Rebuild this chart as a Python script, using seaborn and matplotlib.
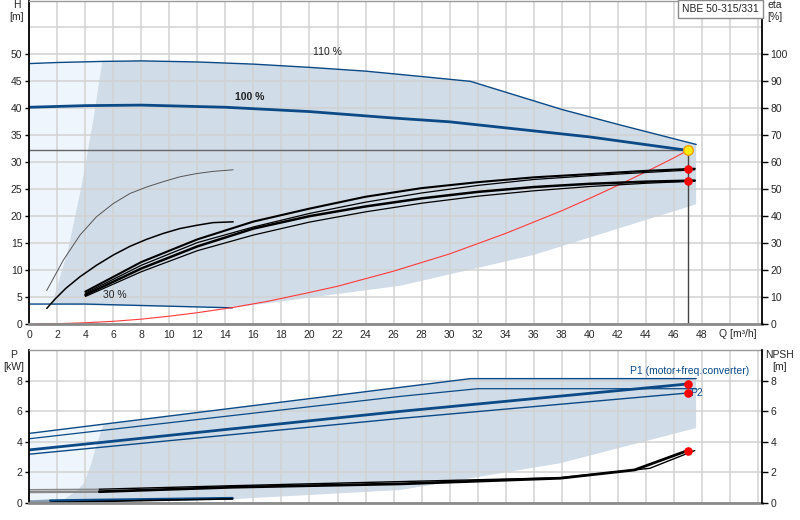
import numpy as np
import matplotlib
matplotlib.use("Agg")
import matplotlib.pyplot as plt
import seaborn as sns

sns.set_style("white")
plt.rcParams["font.family"] = ["Liberation Sans", "DejaVu Sans"]
plt.rcParams["font.size"] = 7.5

DARK_BLUE = "#0b4a86"
SHADE = "#d0dce8"
LIGHT = "#eef5fc"
GRID = "#d2d2d2"

# ---- head chart (H [m], eta [%]) ----
q_110 = [0, 2, 5.2, 8, 12, 16, 20, 24, 28, 31.5, 34, 38, 42.2, 47.6]
h_110 = [48.3, 48.5, 48.7, 48.8, 48.6, 48.2, 47.6, 46.9, 45.9, 45.0, 43.0, 39.8, 36.9, 33.3]

q_100 = [0, 4, 8, 14, 20, 26, 30, 35, 40, 47]
h_100 = [40.2, 40.5, 40.6, 40.2, 39.4, 38.2, 37.5, 36.1, 34.7, 32.2]

q_30 = [0, 1.6, 4, 14.5]
h_30 = [3.7, 3.7, 3.7, 3.0]

# left edge of the operating range, and its lower edge (right to left)
q_left = [1.6, 2.0, 2.76, 3.76, 4.6, 5.2]
h_left = [3.6, 7.0, 13.7, 26.0, 38.4, 48.7]
q_low = [47.6, 47.6, 36, 26.5, 14.5]
h_low = [33.3, 22.2, 12.8, 7.1, 3.0]

# system curve
q_sys = [0.5, 2, 4, 6, 8, 10, 12, 14.5, 17, 20, 22, 24, 26, 28, 30, 32, 34,
         36, 38, 40, 42, 44, 46, 47]
h_sys = [0, 0.06, 0.23, 0.5, 0.9, 1.45, 2.1, 3.05, 4.2, 5.85, 7.0, 8.4, 9.8,
         11.4, 13.0, 14.9, 16.8, 18.9, 21.0, 23.3, 25.7, 28.2, 30.8, 32.2]

# efficiency curves
q_eta_a = [1.24, 2.43, 3.62, 4.8, 6.0, 7.18, 8.37, 9.56, 10.75, 11.94, 13.1, 14.55]
h_eta_a = [6.2, 11.85, 16.5, 19.9, 22.35, 24.2, 25.4, 26.4, 27.3, 27.9, 28.3, 28.6]
q_eta_b = [1.25, 1.83, 2.6, 3.62, 4.8, 6.0, 7.18, 8.37, 9.56, 10.75, 11.94, 13.1, 14.55]
h_eta_b = [2.9, 4.6, 6.6, 8.77, 10.9, 12.8, 14.4, 15.7, 16.8, 17.7, 18.3, 18.8, 18.95]

q_eta = [4, 8, 12, 16, 20, 24, 28, 32, 36, 40, 44, 47.5]
h_eta_1 = [6.0, 11.5, 15.7, 19.0, 21.4, 23.6, 25.2, 26.3, 27.2, 27.8, 28.4, 28.8]
h_eta_2 = [5.7, 10.9, 15.1, 18.0, 20.5, 22.6, 24.3, 25.7, 26.8, 27.5, 28.1, 28.6]
h_eta_3 = [5.4, 10.3, 14.4, 17.7, 20.0, 21.8, 23.3, 24.5, 25.4, 26.0, 26.4, 26.6]
h_eta_4 = [5.1, 9.7, 13.6, 16.5, 18.9, 20.8, 22.4, 23.7, 24.7, 25.5, 26.1, 26.5]

q_duty = 47
h_duty = 32.2
h_eta_dots = [28.7, 26.5]

# ---- power chart (P [kW], NPSH [m]) ----
q_p1 = [0, 26.5, 31.5, 47.6]
p_1 = [4.55, 7.56, 8.13, 8.13]
q_p2 = [0, 26.5, 32, 47.6]
p_2 = [4.2, 6.97, 7.47, 7.47]
q_p3 = [0, 26.5, 47]
p_3 = [3.47, 5.99, 7.78]
q_p4 = [0, 26.5, 47]
p_4 = [3.19, 5.53, 7.19]

q_pleft = [1.5, 2.5, 3.4, 3.9, 4.4, 4.8, 5.3]
p_pleft = [0, 0.25, 0.8, 1.3, 2.5, 3.8, 5.15]
q_plow = [47.6, 47.6, 37.9, 26.5, 14.5, 1.5]
p_plow = [8.13, 4.9, 2.6, 0.85, 0.25, 0]

q_npsh_a = [0, 5, 14.5, 26.5, 37.9, 43.2, 47]
npsh_a = [0.72, 0.74, 1.03, 1.25, 1.62, 2.16, 3.43]
q_npsh_b = [0, 5, 14.5, 26.5, 37.9, 43.2, 44.3, 47.5]
npsh_b = [0.87, 0.9, 1.13, 1.4, 1.65, 2.16, 2.27, 3.43]

q_low_a = [0, 1.5, 14.5]
p_low_a = [0.1, 0.15, 0.31]
q_low_b = [0, 1.5, 14.5]
p_low_b = [0.03, 0.04, 0.27]

p_dots = [7.78, 7.19]
npsh_dot = 3.43

x_ticks = np.arange(0, 53, 2)
x_labels = [str(v) if v <= 48 else "" for v in x_ticks]

fig = plt.figure(figsize=(8, 5.2), dpi=100)
W = 800.0
Hpx = 520.0
ax = fig.add_axes([29.3 / W, 1 - 324 / Hpx, (762 - 29.3) / W, 323.5 / Hpx])
ax2 = fig.add_axes([29.3 / W, 1 - 503 / Hpx, (762 - 29.3) / W, 153 / Hpx])


def line(a, x, y, color, lw, z=2):
    sns.lineplot(x=x, y=y, ax=a, color=color, lw=lw, sort=False,
                 estimator=None, legend=False, zorder=z)


def style_axes(a, ymax, ystep, label_max):
    a.set_xlim(0, 52.3)
    a.set_ylim(0, ymax)
    a.set_axisbelow(True)
    a.set_xticks(x_ticks)
    a.set_yticks(np.arange(0, label_max + 0.01, ystep))
    a.set_yticks(np.arange(label_max + ystep, ymax + 0.01, ystep), minor=True)
    a.grid(True, which="both", color=GRID, lw=1.1)
    a.tick_params(axis="y", which="major", length=3, width=1, pad=2, color="black")
    a.tick_params(axis="y", which="minor", length=0)
    a.tick_params(axis="x", length=0, pad=4)
    a.spines["left"].set_color("black")
    a.spines["left"].set_linewidth(1.3)
    a.spines["right"].set_visible(False)
    a.spines["top"].set_color("#9a9a9a")
    a.spines["top"].set_linewidth(1.0)
    a.spines["bottom"].set_color("#8a8a8a")
    a.spines["bottom"].set_linewidth(2.0)


style_axes(ax, 60, 5, 50)
ax.set_xticklabels(x_labels)
style_axes(ax2, 10, 2, 8)
ax2.set_xticklabels([])

# twin axes on the right
axr = ax.twinx()
axr.set_ylim(0, 120)
axr.set_yticks(np.arange(0, 101, 10))
axr2 = ax2.twinx()
axr2.set_ylim(0, 10)
axr2.set_yticks(np.arange(0, 9, 2))
for a in (axr, axr2):
    a.grid(False)
    for s in ("left", "top", "bottom"):
        a.spines[s].set_visible(False)
    a.spines["right"].set_color("black")
    a.spines["right"].set_linewidth(1.3)
    a.tick_params(axis="y", length=4, width=1, pad=2, color="black")

# --- head chart areas ---
light_q = [0, 0, 5.2] + q_left[::-1] + [0]
light_h = [3.7, 48.3, 48.7] + h_left[::-1] + [3.7]
ax.fill(light_q, light_h, color=LIGHT, lw=0, zorder=0.1)
top_q = [q for q in q_110 if q > 5.2]
top_h = [h for q, h in zip(q_110, h_110) if q > 5.2]
area_q = q_left + top_q + q_low[1:] + [1.6]
area_h = h_left + top_h + h_low[1:] + [3.6]
ax.fill(area_q, area_h, color=SHADE, lw=0, zorder=0.2)

line(ax, q_110, h_110, DARK_BLUE, 1.0)
line(ax, q_100, h_100, DARK_BLUE, 2.0)
line(ax, q_30, h_30, DARK_BLUE, 1.0)
line(ax, q_sys, h_sys, "#ff3a3a", 0.8)
line(ax, q_eta_a, h_eta_a, "#555555", 0.7)
line(ax, q_eta_b, h_eta_b, "black", 1.1)
line(ax, q_eta, h_eta_1, "black", 1.5)
line(ax, q_eta, h_eta_2, "black", 0.9)
line(ax, q_eta, h_eta_3, "black", 1.8)
line(ax, q_eta, h_eta_4, "black", 0.9)

ax.plot([0, q_duty], [h_duty, h_duty], color="#666666", lw=1.0, zorder=1.5)
ax.plot([q_duty, q_duty], [0, h_duty], color="#444444", lw=1.0, zorder=1.5)
ax.scatter([q_duty] * 2, h_eta_dots, s=38, color="red", zorder=5, lw=0)
ax.scatter([q_duty], [h_duty], s=48, color="#ffee00", edgecolor="#f0a000",
           lw=1.0, zorder=6)

ax.text(21.3, 50.4, "110 %", ha="center", va="center", color="#222222")
ax.text(15.7, 42.1, "100 %", ha="center", va="center", fontweight="bold",
        color="#222222")
ax.text(6.1, 5.3, "30 %", ha="center", va="center", color="#222222")

# --- power chart areas ---
plight_q = [0, 0] + q_pleft[::-1]
plight_p = [0, 4.55] + p_pleft[::-1]
ax2.fill(plight_q, plight_p, color=LIGHT, lw=0, zorder=0.1)
ptop_q = [q for q in q_p1 if q > 5.3]
ptop_p = [p for q, p in zip(q_p1, p_1) if q > 5.3]
ax2.fill(q_pleft + ptop_q + q_plow[1:], p_pleft + ptop_p + p_plow[1:],
         color=SHADE, lw=0, zorder=0.2)

line(ax2, q_p1, p_1, DARK_BLUE, 1.0)
line(ax2, q_p2, p_2, DARK_BLUE, 0.9)
line(ax2, q_p3, p_3, DARK_BLUE, 2.0)
line(ax2, q_p4, p_4, DARK_BLUE, 1.0)
line(ax2, q_npsh_b[:2], npsh_b[:2], "#888888", 1.0)
line(ax2, q_npsh_b[1:], npsh_b[1:], "black", 1.0)
line(ax2, q_npsh_a[:2], npsh_a[:2], "#888888", 1.8)
line(ax2, q_npsh_a[1:], npsh_a[1:], "black", 2.0)
line(ax2, q_low_a[:2], p_low_a[:2], "#8aa0b8", 1.8)
line(ax2, q_low_a[1:], p_low_a[1:], DARK_BLUE, 2.0)
line(ax2, q_low_b[:2], p_low_b[:2], "#888888", 1.2)
line(ax2, q_low_b[1:], p_low_b[1:], "black", 1.2)

ax2.scatter([q_duty] * 2, p_dots, s=38, color="red", zorder=5, lw=0)
ax2.scatter([q_duty], [npsh_dot], s=38, color="red", zorder=5, lw=0)
ax2.text(47.2, p_dots[1], "P2", ha="left", va="center", color=DARK_BLUE,
         zorder=4)
ax2.text(51.4, 8.66, "P1 (motor+freq.converter)", ha="right", va="center",
         color=DARK_BLUE)

for a in (ax, ax2, axr, axr2):
    a.set_xlabel("")
    a.set_ylabel("")

# --- axis captions ---
fig.text(16.7 / W, 1 - 5 / Hpx, "H", ha="center", va="center")
fig.text(16.7 / W, 1 - 17 / Hpx, "[m]", ha="center", va="center")
fig.text(775 / W, 1 - 5 / Hpx, "eta", ha="center", va="center")
fig.text(775 / W, 1 - 17 / Hpx, "[%]", ha="center", va="center")
fig.text(14 / W, 1 - 355 / Hpx, "P", ha="center", va="center")
fig.text(14 / W, 1 - 367 / Hpx, "[kW]", ha="center", va="center")
fig.text(779 / W, 1 - 355 / Hpx, "NPSH", ha="center", va="center")
fig.text(780 / W, 1 - 367 / Hpx, "[m]", ha="center", va="center")
fig.text(738 / W, 1 - 334 / Hpx, "Q [m³/h]", ha="center", va="center")
fig.text(720.5 / W, 1 - 9 / Hpx, "NBE 50-315/331", ha="center", va="center",
         bbox=dict(boxstyle="square,pad=0.35", fc="white", ec="#8a8a8a", lw=1.0))

fig.savefig("out.png", dpi=100)
